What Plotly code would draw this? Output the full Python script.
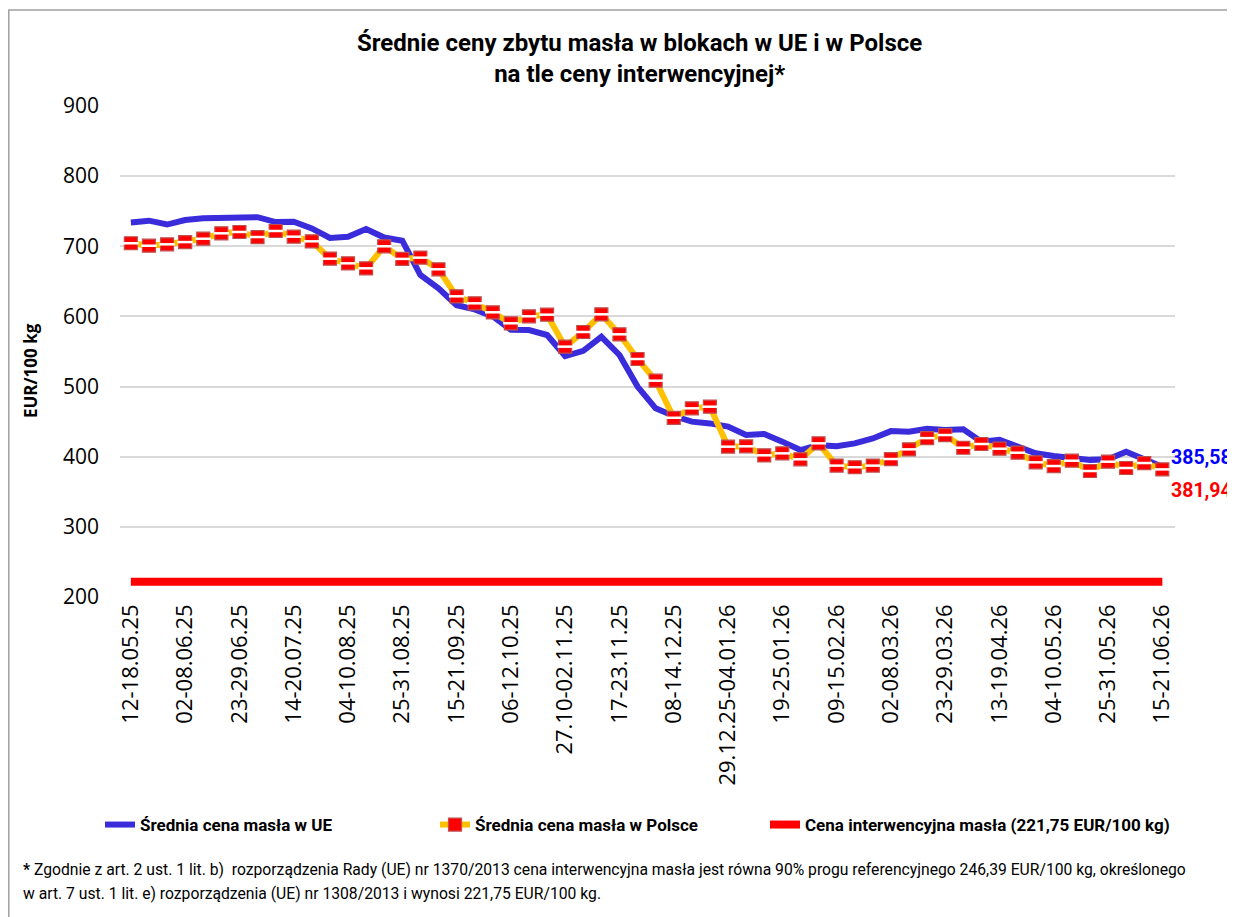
import datetime as dt
import plotly.graph_objects as go

# ---- data ----
START_MONDAY = dt.date(2025, 5, 12)
N_WEEKS = 58

eu_price = [734, 736.5, 731, 737.5, 740, 741, 741, 741.5, 734.5, 735,
            725.5, 712, 713.5, 724.5, 712.5, 708, 659, 640, 616, 610,
            600, 581, 580.5, 573.5, 543.5, 551, 571, 545, 500, 469,
            458, 450, 447.5, 443, 431, 432.5, 421.5, 409.5, 416.5, 415,
            419, 426, 436.5, 435.7, 439.7, 438, 439, 421.5, 424, 414.5,
            405, 401, 398, 395.5, 396.5, 407, 396.5, 385.58]

pl_price = [704.3, 700.8, 702.8, 706, 710.8, 718.5, 720.4, 713.2, 721.8, 713.7,
            707.1, 682.3, 675.7, 668.6, 700, 682, 683.8, 667.2, 628.7, 618.7,
            605.9, 590.2, 600.2, 602.5, 556.9, 577.8, 603, 574.5, 539.3, 508.4,
            455.5, 469, 471.3, 414.3, 414.8, 402, 404.8, 396.3, 419.1, 387.3,
            385, 387.3, 396.7, 410.5, 426.5, 430.9, 412.8, 418.1, 411.4, 405.7,
            392, 386.7, 394.3, 379.6, 392.9, 383.9, 391, 381.94]

INTERVENTION = 221.75


def week_label(monday):
    sunday = monday + dt.timedelta(days=6)
    if monday.year != sunday.year:
        return f"{monday:%d.%m.%y}-{sunday:%d.%m.%y}"
    if monday.month != sunday.month:
        return f"{monday:%d.%m}-{sunday:%d.%m.%y}"
    return f"{monday:%d}-{sunday:%d.%m.%y}"


weeks = [week_label(START_MONDAY + dt.timedelta(weeks=i)) for i in range(N_WEEKS)]
tick_labels = weeks[::3]
interv = [INTERVENTION] * N_WEEKS


def fmt(v):
    return f"{v:.2f}".replace(".", ",")


# ---- layout geometry (page has an 8px body margin) ----
W, H = 1227, 909
L, R, T, B = 112, 60, 98, 320
PW, PH = W - L - R, H - T - B


def px(x):   # figure pixel -> paper x
    return (x - L) / PW


def py(y):   # figure pixel -> paper y
    return (H - B - y) / PH


TXT_FONT = "Roboto, Lato, sans-serif"
NUM_FONT = "Open Sans, Noto Sans, sans-serif"

fig = go.Figure()

fig.add_trace(go.Scatter(
    x=weeks, y=eu_price, mode="lines", name="Średnia cena masła w UE",
    line=dict(color="#3A2BDB", width=6), hoverinfo="skip", legend="legend"))

fig.add_trace(go.Scatter(
    x=weeks, y=pl_price, mode="lines+markers", name="Średnia cena masła w Polsce",
    line=dict(color="#FFC000", width=6),
    marker=dict(symbol="square", size=13, color="#FF0000",
                line=dict(color="#C0504D", width=1.2)),
    hoverinfo="skip", legend="legend2"))

# white stripes inside the markers
fig.add_trace(go.Scatter(
    x=weeks, y=pl_price, mode="markers", showlegend=False,
    marker=dict(symbol="line-ew", size=11, line=dict(color="white", width=2.5)),
    hoverinfo="skip"))

fig.add_trace(go.Scatter(
    x=weeks, y=interv, mode="lines",
    name=f"Cena interwencyjna masła ({fmt(INTERVENTION)} EUR/100 kg)",
    line=dict(color="#FF0000", width=8), hoverinfo="skip", legend="legend3"))

legend_common = dict(orientation="h", xanchor="left", y=py(817), yanchor="middle",
                     font=dict(family=TXT_FONT, size=17, color="black", weight="bold"),
                     itemwidth=30, bgcolor="rgba(0,0,0,0)")

fig.update_layout(
    width=W, height=H,
    margin=dict(l=L, r=R, t=T, b=B),
    paper_bgcolor="white", plot_bgcolor="white",
    showlegend=True,
    legend=dict(x=px(92), **legend_common),
    legend2=dict(x=px(427), **legend_common),
    legend3=dict(x=px(757), **legend_common),
    font=dict(family=NUM_FONT, color="black"),
)

fig.update_xaxes(
    type="category", categoryorder="array", categoryarray=weeks,
    range=[-0.6, N_WEEKS - 1 + 0.7],
    tickmode="array", tickvals=tick_labels, ticktext=tick_labels,
    tickangle=-90, tickfont=dict(family=NUM_FONT, size=22, color="black"),
    showgrid=False, showline=False, zeroline=False, ticks="", ticklabelstandoff=2)

fig.update_yaxes(
    range=[200, 900], tickvals=list(range(200, 901, 100)),
    showgrid=True, gridcolor="#D9D9D9", gridwidth=1.5, zeroline=False,
    showline=False, ticks="", ticklabelstandoff=20,
    tickfont=dict(family=NUM_FONT, size=21, color="black"))

# title
fig.add_annotation(xref="paper", yref="paper", x=px(631), y=py(50), xanchor="center", yanchor="middle",
                   text="<b>Średnie ceny zbytu masła w blokach w UE i w Polsce<br>na tle ceny interwencyjnej*</b>",
                   showarrow=False, align="center",
                   font=dict(family=TXT_FONT, size=24, color="black"))

# y-axis title
fig.add_annotation(xref="paper", yref="paper", x=px(22), y=py(363), textangle=-90,
                   text="<b>EUR/100 kg</b>", showarrow=False,
                   font=dict(family=NUM_FONT, size=17, color="black"),
                   xanchor="center", yanchor="middle")

# end-value labels
fig.add_annotation(x=weeks[-1], y=eu_price[-1], text=f"<b>{fmt(eu_price[-1])}</b>",
                   showarrow=False, xanchor="left", yanchor="middle", xshift=7, yshift=9,
                   font=dict(family=TXT_FONT, size=19.5, color="#0000FF"))
fig.add_annotation(x=weeks[-1], y=pl_price[-1], text=f"<b>{fmt(pl_price[-1])}</b>",
                   showarrow=False, xanchor="left", yanchor="middle", xshift=7, yshift=-21,
                   font=dict(family=TXT_FONT, size=19.5, color="#FF0000"))

# footnote
foot1 = ("<b>*</b> Zgodnie z art. 2 ust. 1 lit. b)  rozporządzenia Rady (UE) nr 1370/2013 cena interwencyjna "
         "masła jest równa 90% progu referencyjnego 246,39 EUR/100 kg, określonego")
foot2 = "w art. 7 ust. 1 lit. e) rozporządzenia (UE) nr 1308/2013 i wynosi 221,75 EUR/100 kg."
fig.add_annotation(xref="paper", yref="paper", x=px(13), y=py(862), xanchor="left", yanchor="middle",
                   text=foot1, showarrow=False, align="left",
                   font=dict(family=TXT_FONT, size=15.7, color="black"))
fig.add_annotation(xref="paper", yref="paper", x=px(13), y=py(885), xanchor="left", yanchor="middle",
                   text=foot2, showarrow=False, align="left",
                   font=dict(family=TXT_FONT, size=15.7, color="black"))

# outer frame of the chart area
fig.add_shape(type="rect", xref="paper", yref="paper",
              x0=px(0.8), x1=px(W + 10), y0=py(H + 10), y1=py(2),
              line=dict(color="#A0A0A0", width=1.5), fillcolor="rgba(0,0,0,0)", layer="below")

fig.write_html("out.html")
